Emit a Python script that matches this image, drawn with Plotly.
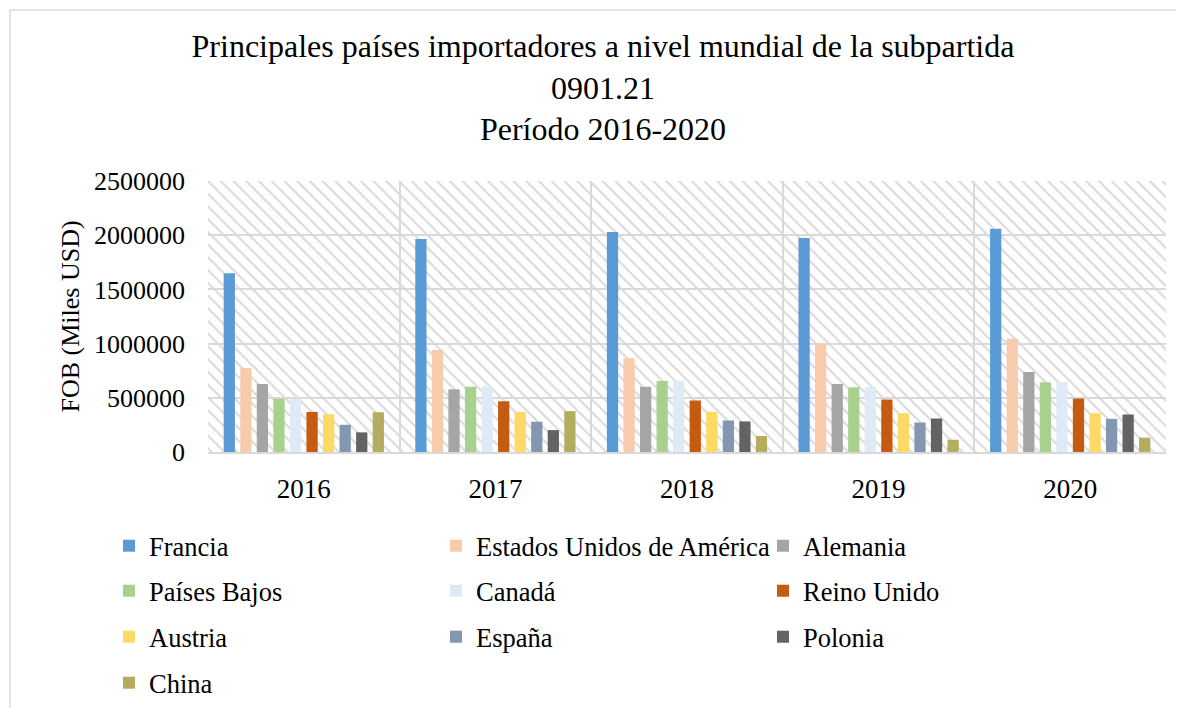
import plotly.graph_objects as go

years = ["2016", "2017", "2018", "2019", "2020"]
countries = ["Francia", "Estados Unidos de América", "Alemania", "Países Bajos", "Canadá",
             "Reino Unido", "Austria", "España", "Polonia", "China"]
colors = ["#5B9BD5", "#F8CBAD", "#A5A5A5", "#A9D18E", "#DEEBF7",
          "#C55A11", "#FFD966", "#8497B0", "#636363", "#B4AC5E"]

francia = [1650000, 1965000, 2030000, 1975000, 2060000]
eeuu = [775000, 940000, 865000, 1000000, 1045000]
alemania = [628000, 578000, 603000, 628000, 738000]
paises_bajos = [490000, 603000, 655000, 597000, 643000]
canada = [492000, 606000, 657000, 600000, 645000]
reino_unido = [370000, 468000, 475000, 484000, 493000]
austria = [349000, 370000, 370000, 358000, 358000]
espana = [251000, 279000, 291000, 272000, 306000]
polonia = [181000, 202000, 282000, 309000, 346000]
china = [367000, 377000, 147000, 113000, 132000]

series = [francia, eeuu, alemania, paises_bajos, canada,
          reino_unido, austria, espana, polonia, china]
legend_of = ["legend", "legend", "legend", "legend2", "legend2", "legend2",
             "legend3", "legend3", "legend3", "legend4"]

FONT = "Liberation Serif"
OFF = 8  # page body margin
W, H = 1184 - OFF, 708 - OFF
# target screen pixels -> figure pixels
L, R, T, B = 208 - OFF, 1166 - OFF, 181 - OFF, 452 - OFF

def px2x(p):
    return (p - OFF - L) / (R - L)

def px2y(p):
    return (B - (p - OFF)) / (B - T)

fig = go.Figure()

# hatched plot-area background
fig.add_trace(go.Bar(
    x=[2], y=[2500000], width=[5], xaxis="x", yaxis="y",
    marker=dict(color="rgba(0,0,0,0)", line=dict(width=0),
                pattern=dict(shape="\\", fgcolor="#d9d9d9", size=9, solidity=0.22,
                             fillmode="replace")),
    showlegend=False, hoverinfo="skip"))

for name, vals, col, lg in zip(countries, series, colors, legend_of):
    fig.add_trace(go.Bar(x=years, y=vals, name=name, marker=dict(color=col, line=dict(width=0)),
                         xaxis="x2", yaxis="y", legend=lg))

legend_common = dict(orientation="h", font=dict(family=FONT, size=26.5, color="black"),
                     entrywidthmode="pixels", entrywidth=282, xanchor="left", yanchor="middle",
                     bgcolor="rgba(0,0,0,0)", itemwidth=30, tracegroupgap=0)
lx = px2x(109)

fig.update_layout(
    width=W, height=H,
    margin=dict(l=L, r=W - R, t=T, b=H - B, pad=0, autoexpand=False),
    paper_bgcolor="white", plot_bgcolor="white",
    barmode="group", bargap=0.136, bargroupgap=0.32,
    font=dict(family=FONT, size=26, color="black"),
    title=dict(text="Principales países importadores a nivel mundial de la subpartida<br>0901.21<br>Período 2016-2020",
               x=(603 - OFF) / W, xref="container", xanchor="center",
               y=1 - 49 / H, yref="container", yanchor="top",
               font=dict(family=FONT, size=32, color="black")),
    xaxis=dict(range=[-0.5, 4.5], tickvals=[-0.5, 0.5, 1.5, 2.5, 3.5, 4.5], showticklabels=False,
               showgrid=True, gridcolor="#d9d9d9", gridwidth=2, zeroline=False,
               showline=True, linecolor="#d9d9d9", linewidth=2, ticks="", fixedrange=True),
    xaxis2=dict(type="category", overlaying="x", categoryorder="array", categoryarray=years,
                showgrid=False, zeroline=False, ticks="", ticklabelstandoff=18,
                tickfont=dict(family=FONT, size=27, color="black")),
    yaxis=dict(range=[0, 2500000], tickvals=[0, 500000, 1000000, 1500000, 2000000, 2500000],
               tickformat="d", showgrid=True, gridcolor="#d9d9d9", gridwidth=2, zeroline=False,
               ticks="", ticklabelstandoff=22, automargin=False,
               tickfont=dict(family=FONT, size=26, color="black"),
               title=dict(text="FOB (Miles USD)", standoff=6,
                          font=dict(family=FONT, size=26, color="black"))),
    legend=dict(x=lx, y=px2y(546), **legend_common),
    legend2=dict(x=lx, y=px2y(591), **legend_common),
    legend3=dict(x=lx, y=px2y(637), **legend_common),
    legend4=dict(x=lx, y=px2y(683), **legend_common),
    shapes=[dict(type="rect", xref="paper", yref="paper",
                 x0=px2x(10), x1=px2x(1200), y0=px2y(720), y1=px2y(10),
                 line=dict(color="#d9d9d9", width=1.5), fillcolor="rgba(0,0,0,0)", layer="below")],
)

fig.write_html("out.html")
